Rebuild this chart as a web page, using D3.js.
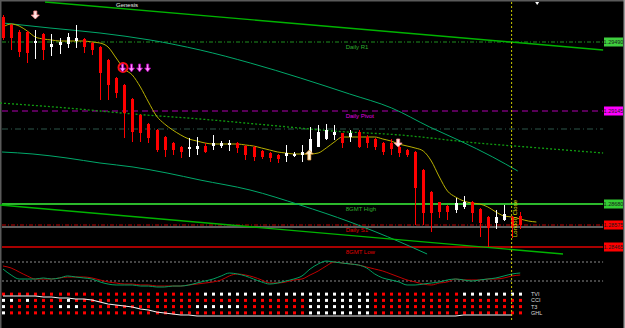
<!DOCTYPE html>
<html>
<head>
<meta charset="utf-8">
<script src="https://cdn.jsdelivr.net/npm/d3@7"></script>
<style>
  body { margin: 0; background: #000; }
  svg { display: block; }
  text { font-family: "Liberation Sans", Arial, sans-serif; }
</style>
</head>
<body>
<div id="container"></div>
<script>
/* CONSTANTS AND GLOBALS */
const width = 625;
const height = 328;

/* DATA */
// candles (one per bar, index 0..64)
const open = [1.29615,1.29575,1.29540,1.29540,1.29485,1.29530,1.29465,1.29475,1.29480,1.29495,
  1.29505,1.29485,1.29465,1.29400,1.29310,1.29275,1.29205,1.29125,1.29080,1.29050,
  1.29015,1.28985,1.28965,1.28955,1.28955,1.28970,1.28970,1.28970,1.28975,1.28985,
  1.28970,1.28965,1.28945,1.28935,1.28925,1.28920,1.28920,1.28925,1.28935,1.28965,
  1.29005,1.29025,1.29035,1.29015,1.29040,1.29015,1.29005,1.28985,1.28985,1.28965,
  1.28950,1.28940,1.28850,1.28740,1.28690,1.28670,1.28650,1.28665,1.28690,1.28655,
  1.28615,1.28585,1.28600,1.28615,1.28620];
const high = [1.29625,1.29580,1.29550,1.29545,1.29550,1.29535,1.29530,1.29510,1.29535,1.29575,
  1.29510,1.29490,1.29470,1.29405,1.29315,1.29280,1.29210,1.29130,1.29085,1.29055,
  1.29020,1.28990,1.28970,1.29010,1.29015,1.28985,1.29025,1.28995,1.29000,1.28990,
  1.28975,1.28970,1.28950,1.28940,1.28930,1.28975,1.28940,1.28975,1.29065,1.29075,
  1.29080,1.29075,1.29035,1.29050,1.29050,1.29025,1.29010,1.28990,1.29005,1.28970,
  1.28955,1.28945,1.28855,1.28745,1.28690,1.28675,1.28710,1.28720,1.28695,1.28660,
  1.28620,1.28650,1.28675,1.28620,1.28640];
const low = [1.29500,1.29450,1.29415,1.29385,1.29405,1.29400,1.29420,1.29430,1.29460,1.29460,
  1.29435,1.29425,1.29200,1.29200,1.29210,1.29010,1.28990,1.28990,1.28985,1.28940,
  1.28915,1.28925,1.28910,1.28915,1.28925,1.28935,1.28950,1.28960,1.28945,1.28935,
  1.28900,1.28895,1.28905,1.28890,1.28885,1.28890,1.28915,1.28890,1.28900,1.28965,
  1.29000,1.29000,1.28960,1.28990,1.28960,1.28960,1.28950,1.28925,1.28925,1.28915,
  1.28915,1.28575,1.28575,1.28540,1.28610,1.28600,1.28635,1.28655,1.28590,1.28515,
  1.28465,1.28555,1.28595,1.28510,1.28555];
const close = [1.29510,1.29510,1.29440,1.29435,1.29495,1.29450,1.29480,1.29490,1.29515,1.29510,
  1.29465,1.29450,1.29335,1.29275,1.29235,1.29135,1.29040,1.29035,1.29010,1.28950,
  1.28950,1.28950,1.28940,1.28965,1.28970,1.28940,1.28985,1.28985,1.28985,1.28960,
  1.28925,1.28915,1.28915,1.28910,1.28905,1.28935,1.28930,1.28940,1.29005,1.29040,
  1.29050,1.29040,1.28985,1.29035,1.28965,1.28985,1.28965,1.28940,1.28955,1.28935,
  1.28925,1.28760,1.28635,1.28635,1.28640,1.28640,1.28685,1.28690,1.28635,1.28585,
  1.28560,1.28615,1.28630,1.28565,1.28575];

// moving average (yellow)
const ma = [1.29565,1.29580,1.29570,1.29545,1.29515,1.29505,1.29500,1.29495,1.29495,1.29495,
  1.29495,1.29490,1.29485,1.29465,1.29410,1.29355,1.29325,1.29265,1.29190,1.29120,
  1.29080,1.29050,1.29025,1.29005,1.28995,1.28985,1.28980,1.28980,1.28980,1.28980,
  1.28975,1.28970,1.28960,1.28950,1.28940,1.28935,1.28930,1.28930,1.28930,1.28935,
  1.28960,1.28990,1.29015,1.29015,1.29015,1.29015,1.29015,1.29005,1.28995,1.28980,
  1.28970,1.28960,1.28945,1.28895,1.28815,1.28745,1.28715,1.28695,1.28685,1.28680,
  1.28665,1.28640,1.28620,1.28615,1.28605,1.28595,1.28590];

// horizontal levels
const levelNames = ["Daily R1", "Daily Pivot", "8GMT High", "Daily S1", "8GMT Low"];
const levelPrices = [1.29490, 1.29145, 1.28680, 1.28575, 1.28465];
const bidPrice = 1.28565;
const midPrice = 1.29055;

// trend lines / channel curves: [bar index, price]
const topLine = [[5.2, 1.29690], [74.26, 1.29450]];
const upperCurve = [[0, 1.29585], [5.82, 1.29560], [12.0, 1.29535], [18.2, 1.29500], [24.4, 1.29450],
  [30.6, 1.29385], [36.8, 1.29310], [42.9, 1.29230], [48.1, 1.29160], [52.8, 1.29065],
  [56.6, 1.28995], [60.6, 1.28915], [63.7, 1.28845]];
const dottedCurve = [[-0.37, 1.29185], [7.92, 1.29160], [16.09, 1.29130], [24.38, 1.29105], [32.67, 1.29075],
  [40.84, 1.29045], [49.13, 1.29025], [58.66, 1.28985], [64.85, 1.28965], [74.26, 1.28935]];
const lowerCurve = [[-0.12, 1.28940], [3.71, 1.28930], [7.92, 1.28910], [12.0, 1.28885], [16.09, 1.28865],
  [20.3, 1.28835], [24.38, 1.28800], [30.57, 1.28750], [36.76, 1.28675], [42.95, 1.28590],
  [49.13, 1.28490], [52.48, 1.28430]];
const bottomLine = [[-0.37, 1.28675], [69.3, 1.28430]];

// signal arrows: [bar index, price of arrow tip]
const downArrows = [[4, 1.29605], [48.9, 1.28965]];
const upArrows = [[37.9, 1.28950]];
const magentaArrows = [[14.8, 1.29340], [15.9, 1.29340], [16.9, 1.29340], [17.9, 1.29340]];
const circleMark = [14.85, 1.29363];

const londonClose = 63;

// oscillator (two lines, levels +100 / -100)
const oscGreen = [26,-37,-79,-79,-79,-68,-79,-68,-47,-58,-68,-79,-110,-132,-142,-142,-142,-153,-153,-163,
  -163,-153,-153,-142,-121,-100,-79,-47,-16,-26,-47,-79,-110,-132,-121,-100,-79,-47,26,79,
  110,100,89,79,68,37,-26,-68,-89,-110,-142,-142,-132,-121,-110,-89,-79,-89,-100,-89,
  -79,-68,-47,-26,-16];
const oscRed = [58,37,-5,-47,-79,-79,-79,-68,-58,-58,-58,-68,-89,-110,-121,-132,-132,-142,-142,-153,
  -153,-153,-153,-142,-132,-121,-110,-89,-47,-26,-37,-58,-89,-121,-121,-110,-89,-79,-37,5,
  58,100,89,79,68,47,26,5,-26,-58,-89,-110,-132,-142,-121,-110,-79,-89,-89,-89,
  -79,-79,-68,-47,-37];
const oscLevels = [100, -100];

// signal rows (U = up / white, D = down / red)
const rowNames = ["TVI", "CCI", "T3", "GHL"];
const tvi = "DDDDDDDDDDDDDDDDDDDDDDDDDUUUUUUUUUUUUUUUUUUUUUDDDDDDDDDDDUUUUUUUU".split("");
const cci = "UUDUDDDDUDDDDDDDDDDDDDDDDDDDDDDDDDDDDDUUUUUUUUDDDDDDDDDDDDDDDDDDD".split("");
const t3 = "UDDDDDDUUUDDDDDDDDDDDDDDUUUUUUDDDDDDDDUUUUUUUUDDDDDDDDDDDDDDDDDDD".split("");
const ghl = "UDDDDDDDDDDDDDDDDDDDDDDDDDDDDDDDDDDDDDUUUUUUUUDDDDDDDDDDDDDDDDDDD".split("");

// stepped line in the signal panel
const stepLine = [100,100,100,100,100,95,95,90,90,85,85,80,70,60,55,50,45,35,30,20,
  15,10,5,5,0,0,0,0,0,0,0,0,0,0,0,0,0,0,0,0,
  0,0,0,0,0,0,0,0,0,0,0,0,0,0,0,0,0,5,5,5,5,5,5,5];

/* SCALES */
const x = d3.scaleLinear().domain([0, 74]).range([3, 601]);
const y = d3.scaleLinear().domain([1.2970, 1.2841]).range([0, 258]);
const yOsc = d3.scaleLinear().domain([100, -100]).range([262, 281]);
const yStep = d3.scaleLinear().domain([0, 100]).range([316, 296]);
const yRow = d3.scaleBand().domain(rowNames).range([291, 316]);

/* HTML ELEMENTS */
const svg = d3.select("#container")
  .append("svg")
  .attr("width", width)
  .attr("height", height)
  .style("background", "#000");

// frame
svg.append("rect").attr("x", 0).attr("y", 0).attr("width", width).attr("height", 1.5).attr("fill", "#5a5a5a");
svg.append("rect").attr("x", 0).attr("y", 0).attr("width", 1.5).attr("height", height).attr("fill", "#5a5a5a");
svg.append("rect").attr("x", 623.5).attr("y", 0).attr("width", 1.5).attr("height", height).attr("fill", "#9a9a9a");

const line = d3.line().x(d => x(d[0])).y(d => y(d[1]));

// horizontal level lines
const levelStyle = {
  "Daily R1": { stroke: "#1f8f1f", w: 1, dash: "4,2,1,2", text: "#2fae2f", box: "#3fcf3f" },
  "Daily Pivot": { stroke: "#b000b0", w: 1, dash: "6,4", text: "#e000e0", box: "#ff00ff" },
  "8GMT High": { stroke: "#2cb82c", w: 2, dash: null, text: "#2fae2f", box: "#33cc33" },
  "Daily S1": { stroke: "#c00000", w: 1, dash: "4,2,1,2", text: "#e00000", box: "#ff0000" },
  "8GMT Low": { stroke: "#e00000", w: 1.5, dash: null, text: "#e00000", box: "#ff0000" }
};

svg.append("line")
  .attr("x1", 2).attr("x2", x(74.26))
  .attr("y1", y(midPrice)).attr("y2", y(midPrice))
  .attr("stroke", "#1e3a32").attr("stroke-width", 1.5).attr("stroke-dasharray", "6,3,1,3");

svg.append("line")
  .attr("x1", 2).attr("x2", x(74.26))
  .attr("y1", y(bidPrice)).attr("y2", y(bidPrice))
  .attr("stroke", "#c0c0c0").attr("stroke-width", 1.2);

levelNames.forEach((name, i) => {
  const s = levelStyle[name];
  const ly = y(levelPrices[i]);
  svg.append("line")
    .attr("x1", 2).attr("x2", x(74.26))
    .attr("y1", ly).attr("y2", ly)
    .attr("stroke", s.stroke).attr("stroke-width", s.w)
    .attr("stroke-dasharray", s.dash);
  svg.append("text")
    .attr("x", x(42.4)).attr("y", ly + 6.5)
    .attr("fill", s.text).attr("font-size", 6)
    .text(name);
  svg.append("rect")
    .attr("x", 604).attr("y", ly - 4.5)
    .attr("width", 19).attr("height", 9)
    .attr("fill", s.box);
  svg.append("text")
    .attr("x", 613.5).attr("y", ly + 2)
    .attr("text-anchor", "middle")
    .attr("fill", "#1a1a1a").attr("font-size", 5.5)
    .text(d3.format(".5f")(levelPrices[i]));
});

// trend lines and curves
svg.append("path").datum(dottedCurve).attr("d", line.curve(d3.curveMonotoneX))
  .attr("fill", "none").attr("stroke", "#109a10").attr("stroke-width", 1.3).attr("stroke-dasharray", "2,2");
svg.append("path").datum(upperCurve).attr("d", line.curve(d3.curveMonotoneX))
  .attr("fill", "none").attr("stroke", "#00a86a").attr("stroke-width", 1);
svg.append("path").datum(lowerCurve).attr("d", line.curve(d3.curveMonotoneX))
  .attr("fill", "none").attr("stroke", "#00a86a").attr("stroke-width", 1);
svg.append("path").datum(topLine).attr("d", line.curve(d3.curveLinear))
  .attr("fill", "none").attr("stroke", "#00b400").attr("stroke-width", 1.4);
svg.append("path").datum(bottomLine).attr("d", line.curve(d3.curveLinear))
  .attr("fill", "none").attr("stroke", "#00b400").attr("stroke-width", 1.4);

svg.append("text")
  .attr("x", 116).attr("y", 7)
  .attr("fill", "#e8e8e8").attr("font-size", 6)
  .text("Genesis");

// moving average
svg.append("path")
  .datum(ma)
  .attr("d", d3.line().x((d, i) => x(i)).y(d => y(d)).curve(d3.curveMonotoneX))
  .attr("fill", "none").attr("stroke", "#b8b000").attr("stroke-width", 1);

// candles
const idx = d3.range(open.length);
svg.selectAll("line.wick")
  .data(idx)
  .join("line")
  .attr("class", "wick")
  .attr("x1", i => Math.round(x(i)) + 0.5).attr("x2", i => Math.round(x(i)) + 0.5)
  .attr("y1", i => y(high[i])).attr("y2", i => y(low[i]))
  .attr("stroke", i => close[i] >= open[i] ? "#ffffff" : "#ff0000")
  .attr("stroke-width", 1);

svg.selectAll("rect.body")
  .data(idx)
  .join("rect")
  .attr("class", "body")
  .attr("x", i => Math.round(x(i)) - 1)
  .attr("width", 3)
  .attr("y", i => y(Math.max(open[i], close[i])))
  .attr("height", i => Math.max(1, Math.abs(y(open[i]) - y(close[i]))))
  .attr("fill", i => close[i] >= open[i] ? "#ffffff" : "#ff0000");

// arrows
svg.selectAll("path.down")
  .data(downArrows)
  .join("path")
  .attr("class", "down")
  .attr("transform", d => `translate(${x(d[0])},${y(d[1])})`)
  .attr("d", "M-1.5,-8h3v4h2.5l-4,4l-4,-4h2.5z")
  .attr("fill", "#ffe4e4").attr("stroke", "#ff8c8c").attr("stroke-width", 0.8);

svg.selectAll("path.up")
  .data(upArrows)
  .join("path")
  .attr("class", "up")
  .attr("transform", d => `translate(${x(d[0])},${y(d[1])})`)
  .attr("d", "M-1.5,10h3v-6h2.5l-4,-4l-4,4h2.5z")
  .attr("fill", "#fff0d0").attr("stroke", "#e09a40").attr("stroke-width", 0.8);

svg.append("circle")
  .attr("cx", x(circleMark[0])).attr("cy", y(circleMark[1]))
  .attr("r", 4.5)
  .attr("fill", "none").attr("stroke", "#ff1010").attr("stroke-width", 2);

svg.selectAll("path.mag")
  .data(magentaArrows)
  .join("path")
  .attr("class", "mag")
  .attr("transform", d => `translate(${x(d[0])},${y(d[1])})`)
  .attr("d", "M-1,-8h2v4h2l-3,4l-3,-4h2z")
  .attr("fill", "#ff90ff").attr("stroke", "#b000b0").attr("stroke-width", 0.8);

// top marker
svg.append("path")
  .attr("transform", `translate(${x(66.1)},2)`)
  .attr("d", "M-2,0h4l-2,3z")
  .attr("fill", "#ffffff");

// oscillator panel
oscLevels.forEach(v => {
  svg.append("line")
    .attr("x1", 2).attr("x2", x(74.26))
    .attr("y1", yOsc(v)).attr("y2", yOsc(v))
    .attr("stroke", "#8a8a8a").attr("stroke-width", 1).attr("stroke-dasharray", "2,2");
});
const oscLine = d3.line().x((d, i) => x(i)).y(d => yOsc(d)).curve(d3.curveMonotoneX);
svg.append("path").datum(oscRed).attr("d", oscLine)
  .attr("fill", "none").attr("stroke", "#c00000").attr("stroke-width", 1);
svg.append("path").datum(oscGreen).attr("d", oscLine)
  .attr("fill", "none").attr("stroke", "#00a060").attr("stroke-width", 1);

// signal dots
const rows = [tvi, cci, t3, ghl];
rows.forEach((row, r) => {
  svg.selectAll("rect.dot" + r)
    .data(row)
    .join("rect")
    .attr("class", "dot" + r)
    .attr("x", (d, i) => Math.round(x(i)) - 1)
    .attr("y", yRow(rowNames[r]) + yRow.bandwidth() / 2 - 1.5)
    .attr("width", 3).attr("height", 3)
    .attr("fill", d => d === "U" ? "#ffffff" : "#ff0000");
  svg.append("text")
    .attr("x", 531).attr("y", yRow(rowNames[r]) + yRow.bandwidth() / 2 + 2)
    .attr("fill", "#d8d8d8").attr("font-size", 5.5)
    .text(rowNames[r]);
});

svg.append("path")
  .datum(stepLine)
  .attr("d", d3.line().x((d, i) => x(i)).y(d => yStep(d)))
  .attr("fill", "none").attr("stroke", "#f0f0f0").attr("stroke-width", 1.2);

// london close marker
svg.append("line")
  .attr("x1", x(londonClose) - 0.5).attr("x2", x(londonClose) - 0.5)
  .attr("y1", 2).attr("y2", 320)
  .attr("stroke", "#c8c800").attr("stroke-width", 1).attr("stroke-dasharray", "2,2");
svg.append("text")
  .attr("transform", `translate(${x(londonClose) + 5},237) rotate(-90)`)
  .attr("fill", "#e0e000").attr("font-size", 6)
  .text("London Close");
</script>
</body>
</html>
